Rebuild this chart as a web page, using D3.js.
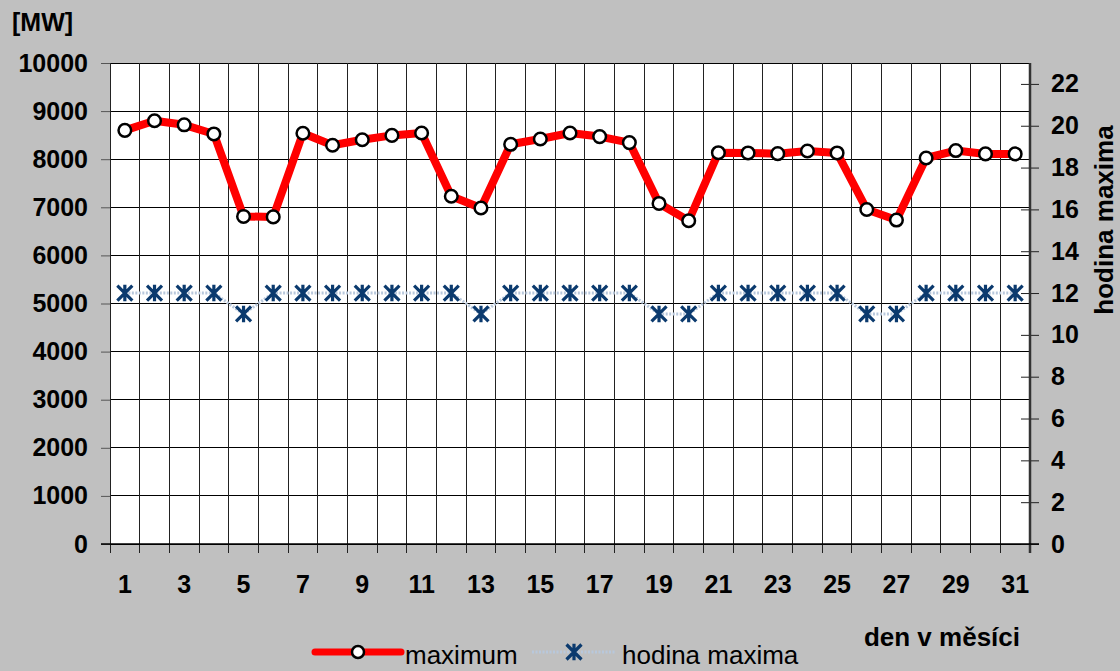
<!DOCTYPE html>
<html>
<head>
<meta charset="utf-8">
<script src="https://cdn.jsdelivr.net/npm/d3@7"></script>
<style>
  body { margin: 0; background: #c0c0c0; }
  svg { display: block; font-family: "Liberation Sans", Arial, sans-serif; }
</style>
</head>
<body>
<div id="chart"></div>
<script>
// data
const days = d3.range(1, 32);
const maximum = [8600, 8800, 8715, 8525, 6810, 6800, 8540, 8290, 8405, 8495,
                 8545, 7230, 6985, 8310, 8420, 8545, 8470, 8345, 7080, 6720,
                 8135, 8130, 8115, 8170, 8130, 6955, 6735, 8025, 8180, 8110, 8110];
const hodina = [12, 12, 12, 12, 11, 12, 12, 12, 12, 12,
                12, 12, 11, 12, 12, 12, 12, 12, 11, 11,
                12, 12, 12, 12, 12, 11, 11, 12, 12, 12, 12];
const leftTicks = d3.range(0, 10001, 1000);
const rightTicks = d3.range(0, 23, 2);

const width = 1120, height = 671;
const plot = { left: 110, right: 1030, top: 63, bottom: 544 };

const svg = d3.select("#chart").append("svg")
    .attr("width", width)
    .attr("height", height);

svg.append("rect").attr("width", width).attr("height", height).attr("fill", "#c0c0c0");

const x = d3.scaleBand().domain(days).range([plot.left, plot.right]).padding(0);
const yL = d3.scaleLinear().domain([0, 10000]).range([plot.bottom, plot.top]);
const yR = d3.scaleLinear().domain([0, 23]).range([plot.bottom, plot.top]);
const cx = d => x(d) + x.bandwidth() / 2;

// plot area
svg.append("rect")
    .attr("x", plot.left).attr("y", plot.top)
    .attr("width", plot.right - plot.left).attr("height", plot.bottom - plot.top)
    .attr("fill", "#fff");

// horizontal grid
svg.append("g").selectAll("line").data(leftTicks).join("line")
    .attr("x1", plot.left).attr("x2", plot.right)
    .attr("y1", d => yL(d)).attr("y2", d => yL(d))
    .attr("stroke", "#000").attr("stroke-width", 1).attr("shape-rendering", "crispEdges");

// vertical grid at category boundaries, extended as ticks below the axis
const bounds = d3.range(0, days.length + 1).map(k => plot.left + k * x.step());
svg.append("g").selectAll("line").data(bounds).join("line")
    .attr("x1", d => d).attr("x2", d => d)
    .attr("y1", plot.top).attr("y2", plot.bottom + 9)
    .attr("stroke", "#222").attr("stroke-width", 1).attr("shape-rendering", "crispEdges");

// left axis
const axL = svg.append("g")
    .attr("transform", `translate(${plot.left},0)`)
    .call(d3.axisLeft(yL).tickValues(leftTicks).tickFormat(d3.format("d")).tickSize(9).tickPadding(13));
axL.select(".domain").remove();
axL.selectAll(".tick line").attr("stroke", "#555");
axL.selectAll("text").attr("font-size", 25).attr("font-weight", "bold").attr("fill", "#000");

// right axis
const axR = svg.append("g")
    .attr("transform", `translate(${plot.right},0)`)
    .call(d3.axisRight(yR).tickValues(rightTicks).tickSize(9).tickPadding(12));
axR.select(".domain").remove();
axR.selectAll(".tick line").attr("x1", -9).attr("x2", 9).attr("stroke", "#222");
axR.selectAll("text").attr("font-size", 25).attr("font-weight", "bold").attr("fill", "#000");
svg.append("line")
    .attr("x1", plot.right).attr("x2", plot.right)
    .attr("y1", plot.top).attr("y2", plot.bottom + 9)
    .attr("stroke", "#333").attr("stroke-width", 2.5);

// bottom axis labels (odd days only)
const axB = svg.append("g")
    .attr("transform", `translate(0,${plot.bottom})`)
    .call(d3.axisBottom(x).tickSize(0).tickPadding(31).tickFormat(d => d % 2 ? d : ""));
axB.select(".domain").remove();
axB.selectAll("text").attr("font-size", 25).attr("font-weight", "bold").attr("fill", "#000");
svg.append("line")
    .attr("x1", plot.left - 9).attr("x2", plot.right + 9)
    .attr("y1", plot.bottom).attr("y2", plot.bottom)
    .attr("stroke", "#000").attr("stroke-width", 1.5);

// hodina maxima series
const hourLine = d3.line().x((d, i) => cx(days[i])).y(d => yR(d));
svg.append("path").datum(hodina)
    .attr("d", hourLine)
    .attr("fill", "none").attr("stroke", "#b8c8dc").attr("stroke-width", 3)
    .attr("stroke-dasharray", "2,1.5");

function star(g, s) {
    g.append("path")
        .attr("d", `M${-s},${-s}L${s},${s}M${-s},${s}L${s},${-s}M0,${-s * 1.1}L0,${s * 1.1}`)
        .attr("stroke", "#0b3a6e").attr("stroke-width", 3.2).attr("fill", "none");
}
svg.append("g").selectAll("g").data(hodina).join("g")
    .attr("transform", (d, i) => `translate(${cx(days[i])},${yR(d)})`)
    .each(function () { star(d3.select(this), 7.5); });

// maximum series
const maxLine = d3.line().x((d, i) => cx(days[i])).y(d => yL(d));
svg.append("path").datum(maximum)
    .attr("d", maxLine)
    .attr("fill", "none").attr("stroke", "#ff0000").attr("stroke-width", 8)
    .attr("stroke-linejoin", "round");
svg.append("g").selectAll("circle").data(maximum).join("circle")
    .attr("cx", (d, i) => cx(days[i])).attr("cy", d => yL(d))
    .attr("r", 6.3)
    .attr("fill", "#fff").attr("stroke", "#000").attr("stroke-width", 2.5);

// titles
svg.append("text").attr("x", 12).attr("y", 31)
    .attr("font-size", 25).attr("font-weight", "bold").text("[MW]");
svg.append("text")
    .attr("transform", "translate(1113,220) rotate(-90)")
    .attr("text-anchor", "middle")
    .attr("font-size", 26).attr("font-weight", "bold").text("hodina maxima");
svg.append("text").attr("x", 1020).attr("y", 646).attr("text-anchor", "end")
    .attr("font-size", 26).attr("font-weight", "bold").text("den v měsíci");

// legend
const ly = 652;
svg.append("line").attr("x1", 315).attr("x2", 401).attr("y1", ly).attr("y2", ly)
    .attr("stroke", "#ff0000").attr("stroke-width", 7).attr("stroke-linecap", "round");
svg.append("circle").attr("cx", 358).attr("cy", ly).attr("r", 6)
    .attr("fill", "#fff").attr("stroke", "#000").attr("stroke-width", 2.5);
svg.append("text").attr("x", 405).attr("y", 664).attr("font-size", 26).text("maximum");
svg.append("line").attr("x1", 532).attr("x2", 616).attr("y1", ly).attr("y2", ly)
    .attr("stroke", "#b8c8dc").attr("stroke-width", 3).attr("stroke-dasharray", "2,1.5");
star(svg.append("g").attr("transform", `translate(574,${ly})`), 7.5);
svg.append("text").attr("x", 622).attr("y", 664).attr("font-size", 26).text("hodina maxima");
</script>
</body>
</html>
